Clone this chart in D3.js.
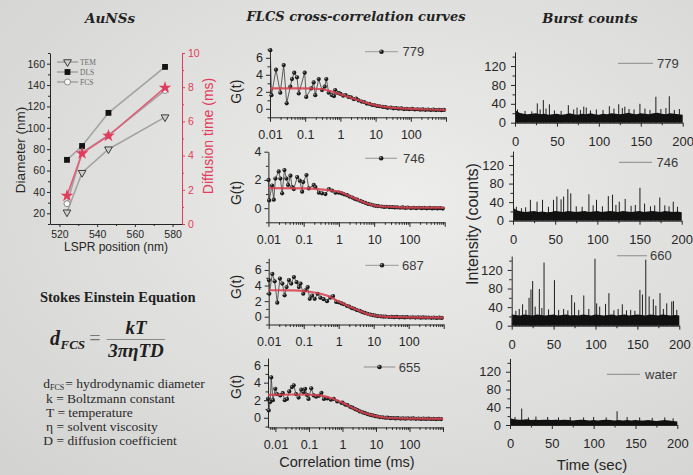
<!DOCTYPE html>
<html><head><meta charset="utf-8">
<script src="https://cdn.jsdelivr.net/npm/d3@7"></script>
<style>body{margin:0;background:#e2e2e0}svg{display:block}</style>
</head><body>
<svg id="c" width="693" height="475"></svg>
<script>
// ================= DATA =================
// Left: AuNSs sizes vs LSPR
const lsprNm = [524, 532, 546, 576];
const temDiamNm = [21, 58, 80, 110];
const dlsDiamNm = [70, 83, 114, 157];
const fcsDiamNm = [29, 77, 93, 135];
const diffTimeMs = [1.65, 4.13, 5.16, 7.97];
const diamTicks = [20, 40, 60, 80, 100, 120, 140, 160];
const diamMinorTicks = [10, 30, 50, 70, 90, 110, 130, 150, 170];
const diffTicks = [0, 2, 4, 6, 8, 10];
const diffMinorTicks = [1, 3, 5, 7, 9];
const lsprTicks = [520, 540, 560, 580];
const lsprMinorTicks = [530, 550, 570];
const methodNames = ["TEM", "DLS", "FCS"];

// Middle: FLCS cross-correlation curves  [lag (ms), G(t)]
const flcsSamples = ["779", "746", "687", "655"];
const lagMajor = [0.01, 0.1, 1, 10, 100, 1000];
const lagLabelled = [0.01, 0.1, 1, 10, 100];
const lagMinor = [0.006, 0.007, 0.008, 0.009,
  0.02, 0.03, 0.04, 0.05, 0.06, 0.07, 0.08, 0.09,
  0.2, 0.3, 0.4, 0.5, 0.6, 0.7, 0.8, 0.9,
  2, 3, 4, 5, 6, 7, 8, 9,
  20, 30, 40, 50, 60, 70, 80, 90,
  200, 300, 400, 500, 600, 700, 800, 900];
const tailLags = [1, 1.2, 1.4, 1.7, 2, 2.4, 2.8, 3.3, 4, 4.7, 5.6, 6.7, 8, 9.5, 11, 13, 16, 19, 22, 27,
  32, 38, 45, 54, 64, 76, 90, 110, 130, 155, 185, 220, 260, 310, 370, 440, 520, 620, 740, 880];

const early779 = [[0.0102,6.9],[0.011,1.6],[0.0148,4.6],[0.0196,1.9],[0.0245,5.15],[0.0298,0.65],[0.0378,2.6],
  [0.0422,3.5],[0.0489,4.25],[0.0585,3.7],[0.0655,1.8],[0.0967,4.25],[0.107,1.4],[0.149,2.4],[0.174,3.1],
  [0.193,1.6],[0.242,3.5],[0.30,2.2],[0.358,2.6],[0.398,3.5],[0.465,1.9],[0.576,1.6],[0.66,1.5],[0.71,2.2],[0.80,1.9],[0.9,1.85]];
const tail779 = [1.75,1.55,1.62,1.4,1.35,1.15,1.2,0.98,0.85,0.8,0.62,0.58,0.45,0.42,0.33,0.3,0.22,0.2,0.12,0.14,
  0.06,0.08,0.02,0.04,-0.03,0.0,-0.05,-0.02,-0.08,-0.05,-0.1,-0.07,-0.12,-0.09,-0.14,-0.1,-0.15,-0.12,-0.16,-0.13];
const fit779 = [[0.01,2.4],[0.1,2.4],[0.3,2.3],[0.6,2.0],[1,1.7],[2,1.3],[3,1.05],[5,0.75],[10,0.4],[20,0.2],[50,0.05],[100,0],[300,-0.08],[1000,-0.12]];

const early746 = [[0.0101,2.0],[0.0105,0.55],[0.0127,1.6],[0.0142,0.6],[0.0158,2.1],[0.0196,2.6],[0.0219,2.1],
  [0.0245,1.05],[0.0285,2.7],[0.0325,2.1],[0.0362,1.65],[0.0422,2.3],[0.047,1.5],[0.0525,1.35],[0.0655,2.2],
  [0.0777,1.95],[0.0906,1.17],[0.097,1.85],[0.12,2.35],[0.14,1.4],[0.193,1.65],[0.216,1.5],[0.27,1.1],[0.33,1.05],
  [0.415,1.0],[0.52,1.35],[0.64,1.25],[0.8,1.1]];
const tail746 = [1.1,1.05,0.98,0.92,0.82,0.75,0.66,0.6,0.52,0.45,0.38,0.3,0.26,0.2,0.17,0.14,0.12,0.09,0.1,0.07,
  0.08,0.05,0.06,0.03,0.05,0.02,0.04,0.01,0.03,0.0,0.03,0.0,0.02,-0.01,0.02,-0.02,0.01,-0.02,0.0,-0.03];
const fit746 = [[0.01,1.42],[0.1,1.4],[0.3,1.33],[0.6,1.25],[1.1,1.15],[2,0.85],[3.6,0.58],[5,0.42],[8,0.25],[12,0.15],[23,0.1],[50,0.06],[200,0.04],[1000,0.03]];

const early687 = [[0.0101,4.7],[0.0104,2.95],[0.0127,5.5],[0.0148,4.55],[0.0176,1.8],[0.0209,4.9],[0.0245,4.25],
  [0.0285,2.75],[0.0325,3.8],[0.0378,4.7],[0.044,4.25],[0.0525,5.1],[0.0625,4.45],[0.0726,3.8],[0.081,4.25],
  [0.097,2.95],[0.112,3.4],[0.13,3.8],[0.149,2.3],[0.174,2.7],[0.206,2.3],[0.25,2.95],[0.30,2.45],[0.37,2.25],
  [0.465,2.0],[0.576,2.45],[0.69,2.65],[0.85,1.9]];
const tail687 = [1.85,1.7,1.6,1.4,1.3,1.1,1.02,0.85,0.75,0.6,0.48,0.38,0.28,0.2,0.15,0.08,0.05,0.0,0.02,-0.04,
  -0.01,-0.06,-0.03,-0.08,-0.05,-0.09,-0.06,-0.1,-0.07,-0.11,-0.08,-0.12,-0.09,-0.13,-0.1,-0.14,-0.11,-0.15,-0.12,-0.16];
const fit687 = [[0.01,3.4],[0.05,3.38],[0.1,3.3],[0.3,2.95],[0.5,2.65],[1,1.95],[2,1.3],[3.7,0.8],[6,0.4],[10,0.15],[20,0.0],[100,-0.08],[1000,-0.12]];

const early655 = [[0.006,2.16],[0.0063,0.84],[0.007,1.8],[0.0075,4.6],[0.0084,2.0],[0.0099,3.3],[0.0111,2.7],
  [0.014,2.55],[0.0165,2.8],[0.019,2.0],[0.0221,2.15],[0.0259,3.0],[0.031,3.5],[0.0352,3.7],[0.0412,2.7],
  [0.049,2.3],[0.059,3.2],[0.069,2.9],[0.077,3.3],[0.087,2.6],[0.097,2.15],[0.117,3.35],[0.139,2.55],[0.163,2.4],
  [0.197,2.5],[0.236,2.85],[0.28,2.15],[0.35,2.2],[0.45,2.05],[0.55,2.15],[0.70,1.85],[0.93,1.7]];
const tail655 = [1.72,1.5,1.45,1.25,1.15,0.98,0.88,0.72,0.62,0.52,0.42,0.32,0.26,0.18,0.14,0.08,0.05,0.0,0.01,-0.05,
  -0.03,-0.08,-0.05,-0.09,-0.06,-0.1,-0.07,-0.11,-0.08,-0.12,-0.09,-0.13,-0.1,-0.13,-0.11,-0.14,-0.12,-0.15,-0.12,-0.15];
const fit655 = [[0.006,2.6],[0.05,2.65],[0.2,2.55],[0.5,2.2],[1,1.7],[2,1.12],[3,0.8],[5,0.48],[10,0.18],[20,0.0],[50,-0.07],[200,-0.1],[1000,-0.13]];

const gTicks7 = [0, 2, 4, 6];
const gMinor7 = [-1, 1, 3, 5, 7];
const gTicks4 = [0, 2, 4];
const gMinor4 = [-1, 1, 3];
const gMinor655 = [-1, 1, 3, 5];

// Right: burst counts
const burstSamples = ["779", "746", "660", "water"];
const burstTimes = [0,5,10,15,20,25,30,35,40,45,50,55,60,65,70,75,80,85,90,95,100,
  105,110,115,120,125,130,135,140,145,150,155,160,165,170,175,180,185,190,195,200];
const band779 = [27,21,19,18,19,20,18,19,17,18,19,17,18,20,18,17,19,18,20,18,17,19,18,20,19,18,19,21,19,18,20,19,18,20,21,19,18,20,19,18,17];
const band746 = [28,22,20,19,20,21,19,20,18,19,21,20,19,21,20,19,20,21,19,20,21,19,20,21,20,19,21,20,19,20,21,19,20,21,20,19,21,20,19,20,18];
const band660 = [24,23,22,24,23,22,24,23,22,23,24,22,23,24,22,23,22,24,23,22,24,23,22,23,24,22,23,24,22,23,24,23,22,24,23,22,24,23,22,23,22];
const bandWater = [15,13,12,12,13,11,12,11,12,12,11,12,11,12,11,10,11,12,11,10,11,10,11,12,11,10,11,10,11,10,11,10,10,11,10,9,10,11,10,9,8];
const spikes779 = [[3,28],[12,25],[20,24],[26.6,41],[30,28],[33.8,48],[37,30],[41,39],[47,26],[55,25],[63.6,37],[70,28],[74,32],[78,27],[82,34],[85,32],[90,26],[97,28],[105,27],[112.5,35],[118,30],[123.7,39],[128,31],[131,34],[136,29],[142,28],[149,40],[155,30],[161,27],[168,55],[174,29],[180,31],[184,56],[190,27],[196,29]];
const spikes746 = [[4,30],[10,27],[15,29],[20.6,45],[28.5,41],[35,45],[42,30],[48,45],[52,52],[57,46],[60,52],[65,68],[68.5,59],[75,31],[82,30],[90,57],[95,33],[99,45],[106,31],[113,53],[118,56],[122,34],[126,41],[133,47],[140,32],[145,34],[150.5,71],[156,37],[163,31],[168,33],[174,50],[180,33],[185,31],[190,41],[195,30]];
const spikes660 = [[5,32],[9,36],[13,46],[17,34],[20.7,60],[23,78],[25,96],[28,41],[33,79],[36,38],[38.6,136],[44,35],[51,98],[56,34],[62,36],[67,33],[71.6,66],[75,50],[80,34],[86,65],[92,36],[99.4,144],[101.4,48],[105,41],[112,47],[116,70],[122,33],[127,36],[132,46],[137,33],[142,34],[147,32],[153,77],[156,67],[160,142],[164,63],[169,57],[172,43],[177,70],[181,36],[185,48],[191,52],[193,53],[197,34]];
const spikesWater = [[6,18],[14,37],[22,17],[31,19],[45,18],[58,17],[72,18],[88,17],[100,18],[115,17],[128,31],[140,18],[155,17],[170,16],[185,17],[195,15]];
const countTicks = [0, 40, 80, 120];
const countMinorTicks = [20, 60, 100, 140];
const timeTicks = [0, 50, 100, 150, 200];
const timeMinorTicks = [25, 75, 125, 175];

// ================= DRAWING =================
const W = 693, H = 475;
const SANS = "'Liberation Sans', Arial, sans-serif";
const SERIF = "'Liberation Serif', 'Times New Roman', serif";
const DSERIF = "'DejaVu Serif', serif";
const INK = "#262626";
const svg = d3.select("#c");
const defs = svg.append("defs");
const rg = defs.append("radialGradient").attr("id", "bg").attr("cx", "58%").attr("cy", "42%").attr("r", "80%");
rg.append("stop").attr("offset", "0%").attr("stop-color", "#ededeb");
rg.append("stop").attr("offset", "100%").attr("stop-color", "#d3d3d1");
svg.append("rect").attr("width", W).attr("height", H).attr("fill", "url(#bg)");

function styleAx(g, color, size, family) {
  g.attr("color", color).attr("font-size", size).attr("font-family", family);
  g.select(".domain").attr("stroke-width", 1);
  return g;
}
function minorAx(axisFn, scale, vals, size, transform, color) {
  const g = svg.append("g").attr("transform", transform)
    .call(axisFn(scale).tickValues(vals).tickSize(size).tickSizeOuter(0).tickFormat(""));
  g.select(".domain").remove();
  g.attr("color", color);
}

// ---------- Titles ----------
function title(txt, x, y, fs) {
  svg.append("text").attr("x", x).attr("y", y).attr("text-anchor", "middle")
    .attr("font-family", DSERIF).attr("font-weight", "bold").attr("font-style", "italic")
    .attr("font-size", fs).attr("fill", "#222").text(txt);
}
title("AuNSs", 110, 23, 13.5);
title("FLCS cross-correlation curves", 356, 21, 13);
title("Burst counts", 590, 23, 13.2);

// ---------- Left chart ----------
const xL = d3.scaleLinear().domain([515, 585]).range([50, 182]);
const yL = d3.scaleLinear().domain([10, 170]).range([224, 53]);
const yR = d3.scaleLinear().domain([0, 10]).range([224, 53]);
const RED = "#e23c5c";

styleAx(svg.append("g").attr("transform", "translate(50,0)")
  .call(d3.axisLeft(yL).tickValues(diamTicks).tickSize(3).tickPadding(2).tickSizeOuter(0)), INK, 10.5, SANS);
minorAx(d3.axisLeft, yL, diamMinorTicks, 2, "translate(50,0)", INK);
styleAx(svg.append("g").attr("transform", "translate(182,0)")
  .call(d3.axisRight(yR).tickValues(diffTicks).tickSize(3).tickPadding(3).tickSizeOuter(0)), RED, 10.5, SANS);
minorAx(d3.axisRight, yR, diffMinorTicks, 2, "translate(182,0)", RED);
styleAx(svg.append("g").attr("transform", "translate(0,224)")
  .call(d3.axisBottom(xL).tickValues(lsprTicks).tickSize(3).tickPadding(4).tickSizeOuter(0)), INK, 10.5, SANS);
minorAx(d3.axisBottom, xL, lsprMinorTicks, 2, "translate(0,224)", INK);

svg.append("text").attr("transform", "translate(25,150) rotate(-90)").attr("text-anchor", "middle")
  .attr("font-family", SANS).attr("font-size", 13.5).attr("fill", INK).text("Diameter (nm)");
svg.append("text").attr("transform", "translate(213,136) rotate(-90)").attr("text-anchor", "middle")
  .attr("font-family", SANS).attr("font-size", 14).attr("fill", RED).text("Diffusion time (ms)");
svg.append("text").attr("x", 116).attr("y", 251).attr("text-anchor", "middle")
  .attr("font-family", SANS).attr("font-size", 12).attr("fill", INK).text("LSPR position (nm)");

const idx = d3.range(lsprNm.length);
const lineOf = (arr, ys) => d3.line().x(i => xL(lsprNm[i])).y(i => ys(arr[i]))(idx);
[[temDiamNm, yL], [dlsDiamNm, yL], [fcsDiamNm, yL]].forEach(([a, s]) =>
  svg.append("path").attr("d", lineOf(a, s)).attr("fill", "none").attr("stroke", "#a4a4a4").attr("stroke-width", 1.6));
svg.append("path").attr("d", lineOf(diffTimeMs, yR)).attr("fill", "none").attr("stroke", "#e0607a").attr("stroke-width", 1.6);

const triSym = d3.symbol().type(d3.symbolTriangle).size(26)();
const sqSym = d3.symbol().type(d3.symbolSquare).size(34)();
const starSym = d3.symbol().type(d3.symbolStar).size(50)();
function tem(g, x, y) { g.append("path").attr("d", triSym).attr("transform", `translate(${x},${y}) rotate(180)`)
  .attr("fill", "#d0d0d0").attr("stroke", "#3a3a3a").attr("stroke-width", 1); }
function dls(g, x, y) { g.append("path").attr("d", sqSym).attr("transform", `translate(${x},${y})`).attr("fill", "#141414"); }
function fcs(g, x, y) { g.append("circle").attr("cx", x).attr("cy", y).attr("r", 3).attr("fill", "#fafafa").attr("stroke", "#8a8a8a").attr("stroke-width", 1); }
const mk = svg.append("g");
idx.forEach(i => {
  tem(mk, xL(lsprNm[i]), yL(temDiamNm[i]));
  dls(mk, xL(lsprNm[i]), yL(dlsDiamNm[i]));
  fcs(mk, xL(lsprNm[i]), yL(fcsDiamNm[i]));
});
idx.forEach(i => mk.append("path").attr("d", starSym)
  .attr("transform", `translate(${xL(lsprNm[i])},${yR(diffTimeMs[i])})`).attr("fill", RED));

// left legend
const legY = [62, 72, 82];
const legMarkers = [tem, dls, fcs];
methodNames.forEach((n, i) => {
  svg.append("line").attr("x1", 57).attr("x2", 78).attr("y1", legY[i]).attr("y2", legY[i]).attr("stroke", "#9a9a9a").attr("stroke-width", 1.3);
  legMarkers[i](svg, 67.5, legY[i]);
  svg.append("text").attr("x", 80).attr("y", legY[i] + 2.6).attr("font-family", SERIF).attr("font-size", 7.5)
    .attr("fill", "#6a6a6a").text(n);
});

// ---------- Stokes Einstein ----------
svg.append("text").attr("x", 117.7).attr("y", 301.5).attr("text-anchor", "middle").attr("font-family", SERIF)
  .attr("font-weight", "bold").attr("font-size", 14.5).attr("fill", "#222").text("Stokes Einstein Equation");
const eq = svg.append("g").attr("font-family", SERIF).attr("font-weight", "bold").attr("font-style", "italic").attr("fill", "#202020");
eq.append("text").attr("x", 50).attr("y", 345).attr("font-size", 20).text("d");
eq.append("text").attr("x", 60.5).attr("y", 348.5).attr("font-size", 13).text("FCS");
eq.append("text").attr("x", 95).attr("y", 345).attr("font-size", 20).attr("font-style", "normal").attr("font-weight", "normal")
  .attr("text-anchor", "middle").attr("fill", "#777").text("=");
svg.append("line").attr("x1", 106.7).attr("x2", 165).attr("y1", 339.5).attr("y2", 339.5).attr("stroke", "#8a8a8a").attr("stroke-width", 1);
eq.append("text").attr("x", 136).attr("y", 333.5).attr("font-size", 19).attr("text-anchor", "middle").text("kT");
eq.append("text").attr("x", 136).attr("y", 357).attr("font-size", 19).attr("text-anchor", "middle").text("3πηTD");

const defLines = [
  {x: 46, y: 403, s: "k = Boltzmann constant"},
  {x: 46, y: 417, s: "T = temperature"},
  {x: 46, y: 431, s: "η = solvent viscosity"},
  {x: 43.3, y: 445, s: "D = diffusion coefficient"}
];
// first definition line with subscript
const d1 = svg.append("text").attr("x", 43.3).attr("y", 388).attr("font-family", SERIF).attr("font-size", 13.5).attr("fill", "#2a2a2a");
d1.append("tspan").text("d");
d1.append("tspan").attr("font-size", 8).attr("dy", 1.6).text("FCS");
d1.append("tspan").attr("dy", -1.6).attr("dx", 1).text("= hydrodynamic diameter");
defLines.forEach(d => svg.append("text").attr("x", d.x).attr("y", d.y).attr("font-family", SERIF)
  .attr("font-size", 13.5).attr("fill", "#2a2a2a").text(d.s));

// ---------- Middle: FLCS panels ----------
const flcsPanels = [
  {name: flcsSamples[0], early: early779, tail: tail779, fit: fit779, xr: [270, 446], xd: [0.01, 1000], yr: [117.3, 49.3], yd: [-1, 7],
   major: gTicks7, minor: gMinor7, leg: {x0: 365, x1: 398, y: 51.7, tx: 402.5}, labY: 91.7},
  {name: flcsSamples[1], early: early746, tail: tail746, fit: fit746, xr: [268.4, 444.7], xd: [0.01, 1000], yr: [222.3, 151.7], yd: [-1, 4],
   major: gTicks4, minor: gMinor4, leg: {x0: 365.3, x1: 397, y: 158.3, tx: 403}, labY: 193},
  {name: flcsSamples[2], early: early687, tail: tail687, fit: fit687, xr: [268.7, 443.7], xd: [0.01, 1000], yr: [324.5, 258.3], yd: [-1, 7.5],
   major: gTicks7, minor: gMinor7, leg: {x0: 365.3, x1: 398.7, y: 265.3, tx: 402}, labY: 287},
  {name: flcsSamples[3], early: early655, tail: tail655, fit: fit655, xr: [268, 443], xd: [0.006, 1000], yr: [427.4, 358.1], yd: [-1.1, 6.8],
   major: gTicks7, minor: gMinor655, leg: {x0: 363.7, x1: 395.3, y: 367, tx: 398.7}, labY: 387}
];
function ball(g, x, y, r) {
  g.append("circle").attr("cx", x).attr("cy", y).attr("r", r).attr("fill", "#1b1b1b");
  g.append("circle").attr("cx", x - r * 0.3).attr("cy", y - r * 0.35).attr("r", r * 0.38).attr("fill", "#9a9a9a");
}
flcsPanels.forEach(p => {
  const x = d3.scaleLog().domain(p.xd).range(p.xr);
  const y = d3.scaleLinear().domain(p.yd).range(p.yr);
  const x0 = p.xr[0], yb = p.yr[0];
  styleAx(svg.append("g").attr("transform", `translate(${x0},0)`)
    .call(d3.axisLeft(y).tickValues(p.major).tickSize(4).tickPadding(3).tickSizeOuter(0).tickFormat(d3.format("d"))), INK, 12.5, SANS);
  minorAx(d3.axisLeft, y, p.minor, 2.5, `translate(${x0},0)`, INK);
  styleAx(svg.append("g").attr("transform", `translate(0,${yb})`)
    .call(d3.axisBottom(x).tickValues(lagMajor.filter(v => v >= p.xd[0] && v <= p.xd[1])).tickSize(4.5).tickPadding(8).tickSizeOuter(0)
      .tickFormat(v => lagLabelled.includes(v) ? String(v) : "")), INK, 12.5, SANS);
  minorAx(d3.axisBottom, x, lagMinor.filter(v => v > p.xd[0] && v < p.xd[1]), 2.5, `translate(0,${yb})`, INK);

  const pts = p.early.concat(tailLags.map((t, i) => [t, p.tail[i]]));
  svg.append("path").attr("d", d3.line().x(d => x(d[0])).y(d => y(d[1]))(pts))
    .attr("fill", "none").attr("stroke", "#383838").attr("stroke-width", 0.8);
  const mg = svg.append("g");
  pts.forEach(d => ball(mg, x(d[0]), y(d[1]), 2.1));
  svg.append("path").attr("d", d3.line().curve(d3.curveMonotoneX).x(d => x(d[0])).y(d => y(d[1]))(p.fit))
    .attr("fill", "none").attr("stroke", "#d8404e").attr("stroke-width", 2.2).attr("stroke-opacity", 0.85);

  svg.append("line").attr("x1", p.leg.x0).attr("x2", p.leg.x1).attr("y1", p.leg.y).attr("y2", p.leg.y).attr("stroke", "#a8a8a8").attr("stroke-width", 1.3);
  ball(svg, (p.leg.x0 + p.leg.x1) / 2, p.leg.y, 2.3);
  svg.append("text").attr("x", p.leg.tx).attr("y", p.leg.y + 4.6).attr("font-family", SANS).attr("font-size", 13)
    .attr("fill", "#3a3a3a").text(p.name);
  svg.append("text").attr("transform", `translate(241,${p.labY}) rotate(-90)`).attr("text-anchor", "middle")
    .attr("font-family", SANS).attr("font-size", 14).attr("fill", INK).text("G(t)");
});
svg.append("text").attr("x", 347).attr("y", 467).attr("text-anchor", "middle").attr("font-family", SANS)
  .attr("font-size", 14.5).attr("fill", INK).text("Correlation time (ms)");

// ---------- Right: burst panels ----------
const burstPanels = [
  {name: burstSamples[0], band: band779, spikes: spikes779, xr: [515, 682.7], yr: [122.7, 51.9], leg: {x0: 618, x1: 653, y: 63.3, tx: 657}},
  {name: burstSamples[1], band: band746, spikes: spikes746, xr: [513, 681.7], yr: [220.7, 151.1], leg: {x0: 619, x1: 652, y: 162.3, tx: 656.5}},
  {name: burstSamples[2], band: band660, spikes: spikes660, xr: [511.7, 679.3], yr: [325.7, 256], leg: {x0: 617, x1: 647, y: 255.7, tx: 650}},
  {name: burstSamples[3], band: bandWater, spikes: spikesWater, xr: [510, 677.3], yr: [425, 358.4], leg: {x0: 607, x1: 640, y: 374.3, tx: 645}}
];
burstPanels.forEach(p => {
  const x = d3.scaleLinear().domain([0, 200]).range(p.xr);
  const y = d3.scaleLinear().domain([0, 150]).range(p.yr);
  p.spikes.forEach(s => svg.append("line").attr("x1", x(s[0])).attr("x2", x(s[0])).attr("y1", y(0)).attr("y2", y(s[1]))
    .attr("stroke", "#1e1e1e").attr("stroke-width", 1));
  svg.append("path").attr("d", d3.area().x((t, i) => x(t)).y0(y(0)).y1((t, i) => y(p.band[i]))(burstTimes)).attr("fill", "#111");
  styleAx(svg.append("g").attr("transform", `translate(${p.xr[0]},0)`)
    .call(d3.axisLeft(y).tickValues(countTicks).tickSize(4).tickPadding(5).tickSizeOuter(0)), INK, 13, SANS);
  minorAx(d3.axisLeft, y, countMinorTicks, 2.5, `translate(${p.xr[0]},0)`, INK);
  styleAx(svg.append("g").attr("transform", `translate(0,${p.yr[0]})`)
    .call(d3.axisBottom(x).tickValues(timeTicks).tickSize(4).tickPadding(10).tickSizeOuter(0)), INK, 13, SANS);
  minorAx(d3.axisBottom, x, timeMinorTicks, 2.5, `translate(0,${p.yr[0]})`, INK);
  svg.append("line").attr("x1", p.leg.x0).attr("x2", p.leg.x1).attr("y1", p.leg.y).attr("y2", p.leg.y).attr("stroke", "#9a9a9a").attr("stroke-width", 1.2);
  svg.append("text").attr("x", p.leg.tx).attr("y", p.leg.y + 4.6).attr("font-family", SANS).attr("font-size", 13)
    .attr("fill", "#3a3a3a").text(p.name);
});
svg.append("text").attr("transform", "translate(477.5,224) rotate(-90)").attr("text-anchor", "middle")
  .attr("font-family", SANS).attr("font-size", 16).attr("fill", INK).text("Intensity (counts)");
svg.append("text").attr("x", 592).attr("y", 470).attr("text-anchor", "middle").attr("font-family", SANS)
  .attr("font-size", 15).attr("fill", INK).text("Time (sec)");
</script>
</body></html>
